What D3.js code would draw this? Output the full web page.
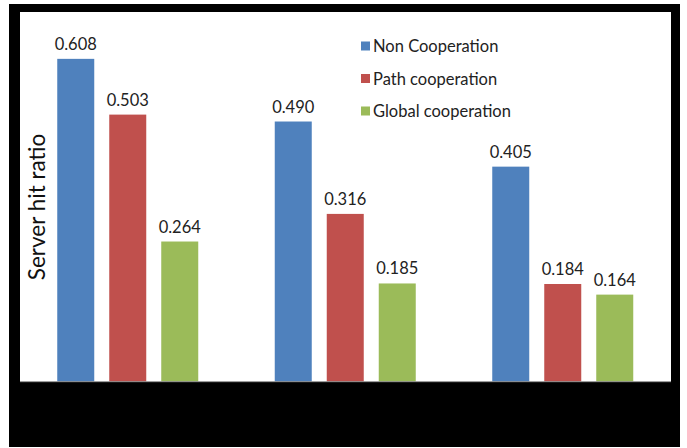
<!DOCTYPE html>
<html>
<head>
<meta charset="utf-8">
<script src="https://cdn.jsdelivr.net/npm/d3@7"></script>
<style>
  body { margin: 0; background: #fff; }
  text { font-family: Lato, "Open Sans", sans-serif; }
</style>
</head>
<body>
<div id="chart"></div>
<script>
// data
const groups = ['A', 'B', 'C'];
const seriesNames = ['Non Cooperation', 'Path cooperation', 'Global cooperation'];
const seriesColors = ['#4f81bd', '#c0504d', '#9bbb59'];
const nonCoop = [0.608, 0.490, 0.405];
const pathCoop = [0.503, 0.316, 0.184];
const globalCoop = [0.264, 0.185, 0.164];
const seriesValues = [nonCoop, pathCoop, globalCoop];

const width = 687, height = 448;
const svg = d3.select('#chart').append('svg')
  .attr('width', width).attr('height', height);

// 黑色边框
svg.append('rect')
  .attr('x', 9).attr('y', 4).attr('width', 671).attr('height', 443)
  .attr('fill', '#000');
// 白色绘图区
svg.append('rect')
  .attr('x', 20).attr('y', 12).attr('width', 651).attr('height', 370)
  .attr('fill', '#fff');

const x0 = d3.scaleBand().domain(groups).range([19, 671.5]).paddingInner(0).paddingOuter(0);
const y = d3.scaleLinear().domain([0, 0.7]).range([381.7, 10]);

const rows = [];
groups.forEach((g, gi) => {
  seriesValues.forEach((vals, si) => rows.push({ g, si, v: vals[gi] }));
});

const barW = 37;
const off = i => (x0.bandwidth() - 3 * barW - 2 * 15) / 2 + i * (barW + 15);

const bars = svg.append('g');
bars.selectAll('rect')
  .data(rows)
  .join('rect')
  .attr('x', d => x0(d.g) + off(d.si))
  .attr('y', d => y(d.v))
  .attr('width', barW)
  .attr('height', d => y(0) - y(d.v))
  .attr('fill', d => seriesColors[d.si]);

bars.selectAll('text')
  .data(rows)
  .join('text')
  .attr('x', d => x0(d.g) + off(d.si) + barW / 2)
  .attr('y', d => y(d.v) - 9)
  .attr('text-anchor', 'middle')
  .attr('font-size', 16.5)
  .attr('fill', '#222')
  .text(d => d.v.toFixed(3));

// 基线
svg.append('line')
  .attr('x1', 20).attr('x2', 671)
  .attr('y1', y(0)).attr('y2', y(0))
  .attr('stroke', '#888').attr('stroke-width', 1);

// 坐标轴标题
svg.append('text')
  .attr('transform', `translate(45,${207}) rotate(-90)`)
  .attr('text-anchor', 'middle')
  .attr('font-size', 22.5)
  .attr('fill', '#111')
  .text('Server hit ratio');

// 图例
const legend = svg.append('g').attr('transform', 'translate(361,0)');
const ly = d3.scalePoint().domain(seriesNames).range([46, 111]);
legend.selectAll('rect')
  .data(seriesNames)
  .join('rect')
  .attr('x', 0).attr('y', d => ly(d) - 4.5)
  .attr('width', 9).attr('height', 9)
  .attr('fill', (d, i) => seriesColors[i]);
legend.selectAll('text')
  .data(seriesNames)
  .join('text')
  .attr('x', 12).attr('y', d => ly(d) + 6)
  .attr('font-size', 16.5)
  .attr('fill', '#222')
  .text(d => d);
</script>
</body>
</html>
